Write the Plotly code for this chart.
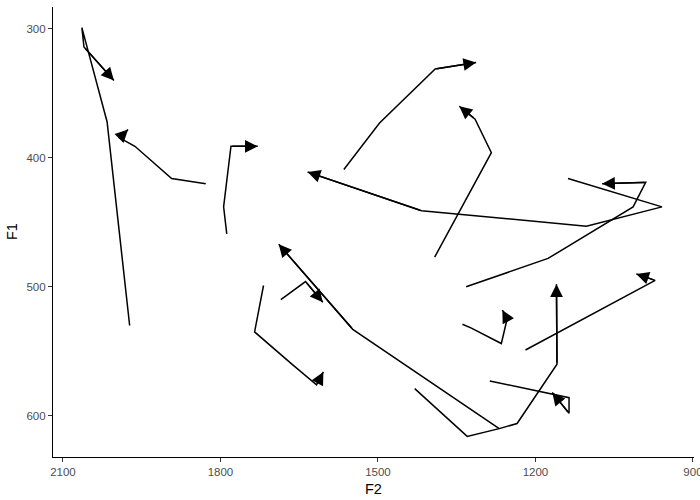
import plotly.graph_objects as go

# Formant trajectories (F2, F1), in drawing order; the arrow is at the last point
traj_1_f2 = [1973, 2016, 2064, 2060, 2003]
traj_1_f1 = [530, 372, 299, 314, 340]

traj_2_f2 = [1828, 1893, 1963, 1992, 1976]
traj_2_f1 = [420, 416, 391, 384.5, 378]

traj_3_f2 = [1788, 1794, 1780, 1729]
traj_3_f1 = [459, 438, 391, 391]

traj_4_f2 = [1565, 1497, 1391, 1313]
traj_4_f1 = [409, 373, 331, 326]

traj_5_f2 = [1392, 1284, 1315, 1345]
traj_5_f1 = [477, 396, 370, 360]

traj_6_f2 = [1138, 959, 1103, 1417, 1634]
traj_6_f1 = [416, 438, 453, 441, 411]

traj_7_f2 = [1332, 1176, 1014, 990, 1073]
traj_7_f1 = [500, 478, 438, 419, 420]

traj_8_f2 = [1219, 972, 1008]
traj_8_f1 = [549, 495, 490]

traj_9_f2 = [1430, 1330, 1269, 1235, 1159, 1160]
traj_9_f1 = [579, 616, 610, 606, 560, 498]

traj_10_f2 = [1269, 1548, 1689]
traj_10_f1 = [610, 533, 467]

traj_11_f2 = [1685, 1638, 1605]
traj_11_f1 = [510, 496, 512]

traj_12_f2 = [1718, 1735, 1664, 1617, 1604]
traj_12_f1 = [499, 535, 560, 576, 566]

traj_13_f2 = [1339, 1322, 1265, 1254, 1263]
traj_13_f1 = [529, 532, 544, 525, 518]

traj_14_f2 = [1287, 1136, 1136, 1168]
traj_14_f1 = [573, 586, 598, 582]

trajectories = [
    (traj_1_f2, traj_1_f1), (traj_2_f2, traj_2_f1), (traj_3_f2, traj_3_f1),
    (traj_4_f2, traj_4_f1), (traj_5_f2, traj_5_f1), (traj_6_f2, traj_6_f1),
    (traj_7_f2, traj_7_f1), (traj_8_f2, traj_8_f1), (traj_9_f2, traj_9_f1),
    (traj_10_f2, traj_10_f1), (traj_11_f2, traj_11_f1), (traj_12_f2, traj_12_f1),
    (traj_13_f2, traj_13_f1), (traj_14_f2, traj_14_f1),
]

x_ticks = [2100, 1800, 1500, 1200, 900]
y_ticks = [300, 400, 500, 600]

FONT = "Liberation Sans, Arial, sans-serif"

fig = go.Figure()
annotations = []
for f2, f1 in trajectories:
    fig.add_trace(go.Scatter(
        x=f2, y=f1, mode="lines",
        line=dict(color="black", width=1.5),
        showlegend=False, hoverinfo="skip",
    ))
    # closed arrowhead at the end of the path, pointing along the last segment
    annotations.append(dict(
        x=f2[-1], y=f1[-1], ax=f2[-2], ay=f1[-2],
        xref="x", yref="y", axref="x", ayref="y",
        text="", showarrow=True, arrowhead=2, arrowsize=1.7,
        arrowwidth=1.5, arrowcolor="black", standoff=0,
    ))

axis_common = dict(
    showgrid=False, zeroline=False, showline=True, linecolor="black", linewidth=1.1,
    ticks="outside", ticklen=4, tickcolor="#333333", tickwidth=1.1, automargin=False,
    ticklabeloverflow="allow",
    tickfont=dict(family=FONT, size=11.5, color="#4d4d4d"),
)

annotations += [
    dict(text="F2", xref="paper", yref="paper", x=0.5, y=0, yshift=-32,
         xanchor="center", yanchor="middle", showarrow=False,
         font=dict(family=FONT, size=14.5, color="black")),
    dict(text="F1", xref="paper", yref="paper", x=0, y=0.5, xshift=-41,
         xanchor="center", yanchor="middle", showarrow=False, textangle=-90,
         font=dict(family=FONT, size=14.5, color="black")),
]

fig.update_layout(
    template="none",
    width=700, height=500,
    margin=dict(l=53, r=6, t=7, b=43),
    paper_bgcolor="white", plot_bgcolor="white",
    xaxis=dict(range=[2119, 898], tickvals=x_ticks, **axis_common),
    yaxis=dict(range=[632, 283], tickvals=y_ticks, **axis_common),
    annotations=annotations,
)

fig.write_html(
    "out.html",
    config={"displayModeBar": False},
    post_script="document.body.style.margin='0px'; document.body.style.padding='0px';",
)
